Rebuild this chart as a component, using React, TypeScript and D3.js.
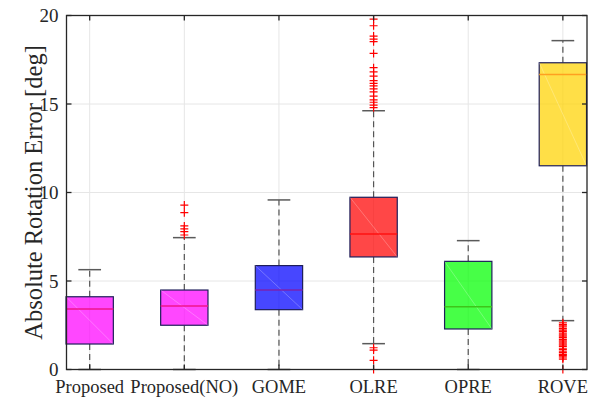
import React, { useEffect, useRef } from 'react';
import * as d3 from 'd3';

const categories = ['Proposed', 'Proposed(NO)', 'GOME', 'OLRE', 'OPRE', 'ROVE'];
const q1 = [1.44, 2.5, 3.38, 6.36, 2.29, 11.51];
const medians = [3.42, 3.59, 4.49, 7.66, 3.55, 16.66];
const q3 = [4.11, 4.49, 5.87, 9.73, 6.11, 17.33];
const whiskerLow = [0, 0, 0, 1.46, 0, 2.76];
const whiskerHigh = [5.64, 7.45, 9.58, 14.62, 7.28, 18.58];
const outliersNO = [9.29, 8.86, 8.11, 7.94, 7.79, 7.6];
const outliersOLRE = [
  19.8, 19.42, 18.84, 18.67, 18.52, 17.86, 17.05, 16.82, 16.58, 16.32, 16.17, 16.02,
  15.86, 15.69, 15.44, 15.23, 15.1, 14.94, 14.79, 1.23, 1.1, 0.52, 0.0,
];
const outliersROVE = [
  2.64, 2.55, 2.47, 2.4, 2.31, 2.22, 2.15, 2.05, 1.96, 1.88, 1.8, 1.7, 1.62, 1.55,
  1.45, 1.38, 1.3, 1.2, 1.12, 1.03, 0.95, 0.86, 0.8, 0.72, 0.65, 0.58, 0.0,
];
const outliers = [[], outliersNO, [], outliersOLRE, [], outliersROVE];
const fills = ['#ff00ff', '#ff00ff', '#0000ff', '#ff0000', '#00ff00', '#ffd200'];
const medianColors = ['#f0148c', '#f0148c', '#7a22b0', '#ff1010', '#3ec41a', '#ffa020'];
const yTicks = [0, 5, 10, 15, 20];

const App = () => {
  const ref = useRef<SVGSVGElement>(null);

  useEffect(() => {
    document.body.style.margin = '0';
    const svg = d3.select(ref.current);
    svg.selectAll('*').remove();

    const left = 66.5, right = 587, top = 15.5, bottom = 369.5;
    const x = d3.scaleLinear().domain([0.755, 6.255]).range([left, right]);
    const y = d3.scaleLinear().domain([0, 20]).range([bottom, top]);
    const font = '"Liberation Serif", "Times New Roman", serif';
    const bw = 0.5, cw = 0.24;

    // grid
    svg.append('g').selectAll('line').data(yTicks).enter().append('line')
      .attr('x1', left).attr('x2', right)
      .attr('y1', d => y(d)).attr('y2', d => y(d))
      .attr('stroke', '#e6e6e6').attr('stroke-width', 1);
    svg.append('g').selectAll('line').data(categories).enter().append('line')
      .attr('x1', (d, i) => x(i + 1)).attr('x2', (d, i) => x(i + 1))
      .attr('y1', top).attr('y2', bottom)
      .attr('stroke', '#e6e6e6').attr('stroke-width', 1);

    const g = svg.append('g');
    categories.forEach((c, i) => {
      const cx = x(i + 1);
      // whiskers
      [[q3[i], whiskerHigh[i]], [q1[i], whiskerLow[i]]].forEach(([a, b]) => {
        g.append('line').attr('x1', cx).attr('x2', cx).attr('y1', y(a)).attr('y2', y(b))
          .attr('stroke', '#555').attr('stroke-width', 1.2).attr('stroke-dasharray', '6,4');
        g.append('line').attr('x1', x(i + 1 - cw / 2)).attr('x2', x(i + 1 + cw / 2))
          .attr('y1', y(b)).attr('y2', y(b))
          .attr('stroke', '#5a5a5a').attr('stroke-width', 1.5);
      });
      // box
      const bx = x(i + 1 - bw / 2), bxw = x(i + 1 + bw / 2) - bx;
      g.append('rect').attr('x', bx).attr('y', y(q3[i]))
        .attr('width', bxw).attr('height', y(q1[i]) - y(q3[i]))
        .attr('fill', fills[i]).attr('fill-opacity', 0.72)
        .attr('stroke', '#1e1e5a').attr('stroke-width', 1.2);
      g.append('line').attr('x1', bx).attr('x2', bx + bxw)
        .attr('y1', y(q3[i])).attr('y2', y(q1[i]))
        .attr('stroke', '#fff').attr('stroke-opacity', 0.25).attr('stroke-width', 1);
      g.append('line').attr('x1', bx).attr('x2', bx + bxw)
        .attr('y1', y(medians[i])).attr('y2', y(medians[i]))
        .attr('stroke', medianColors[i]).attr('stroke-width', 1.5);
      // outliers
      outliers[i].forEach(v => {
        const py = y(v);
        g.append('path')
          .attr('d', `M${cx - 4},${py}H${cx + 4}M${cx},${py - 4}V${py + 4}`)
          .attr('stroke', '#ff0000').attr('stroke-width', 1.2).attr('fill', 'none');
      });
    });

    // axes box
    svg.append('rect').attr('x', left).attr('y', top)
      .attr('width', right - left).attr('height', bottom - top)
      .attr('fill', 'none').attr('stroke', '#262626').attr('stroke-width', 1.3);
    const ticks = svg.append('g').attr('stroke', '#262626').attr('stroke-width', 1.3);
    yTicks.forEach(t => {
      ticks.append('line').attr('x1', left).attr('x2', left + 5).attr('y1', y(t)).attr('y2', y(t));
      ticks.append('line').attr('x1', right).attr('x2', right - 5).attr('y1', y(t)).attr('y2', y(t));
    });
    categories.forEach((c, i) => {
      ticks.append('line').attr('x1', x(i + 1)).attr('x2', x(i + 1)).attr('y1', top).attr('y2', top + 5);
      ticks.append('line').attr('x1', x(i + 1)).attr('x2', x(i + 1)).attr('y1', bottom).attr('y2', bottom - 5);
    });

    // tick labels
    svg.append('g').selectAll('text').data(yTicks).enter().append('text')
      .attr('x', left - 8).attr('y', d => y(d)).attr('dy', '0.35em')
      .attr('text-anchor', 'end').attr('font-family', font).attr('font-size', 19)
      .attr('fill', '#262626').text(d => d);
    svg.append('g').selectAll('text').data(categories).enter().append('text')
      .attr('x', (d, i) => x(i + 1)).attr('y', 393)
      .attr('text-anchor', 'middle').attr('font-family', font).attr('font-size', 18.5)
      .attr('fill', '#262626').text(d => d);

    svg.append('text')
      .attr('transform', `translate(42,${(top + bottom) / 2}) rotate(-90)`)
      .attr('text-anchor', 'middle').attr('font-family', font).attr('font-size', 24.5)
      .attr('fill', '#262626').text('Absolute Rotation Error [deg]');
  }, []);

  return <svg ref={ref} width={596} height={397} style={{ display: 'block', background: '#fff' }} />;
};

export default App;
